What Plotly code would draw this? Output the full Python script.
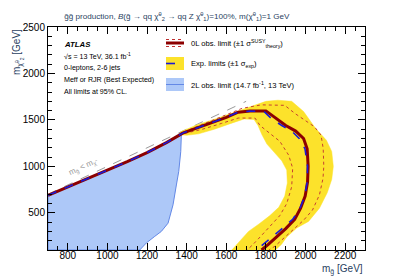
import plotly.graph_objects as go

# ---------------- data (GeV) ----------------
obs_x = [700, 800, 900, 1000, 1100, 1200, 1300, 1380, 1450, 1520, 1600, 1660, 1720, 1800,
         1850, 1900, 1950, 1990, 2008, 2013, 2010, 1998, 1975, 1945, 1900, 1855, 1812, 1778]
obs_y = [688, 778, 868, 963, 1050, 1148, 1258, 1358, 1410, 1460, 1528, 1583, 1595, 1597,
         1520, 1440, 1380, 1300, 1190, 1000, 830, 680, 550, 430, 330, 240, 160, 100]

exp_x = [700, 800, 900, 1000, 1100, 1200, 1300, 1380, 1450, 1520, 1600, 1660, 1720, 1790,
         1830, 1880, 1930, 1968, 1997, 2010, 2008, 1996, 1972, 1935, 1882, 1832, 1786, 1752]
exp_y = [688, 778, 868, 963, 1050, 1148, 1258, 1358, 1410, 1460, 1528, 1583, 1595, 1592,
         1510, 1440, 1380, 1300, 1190, 1000, 830, 680, 550, 430, 330, 240, 160, 100]

th_up_x = [1385, 1450, 1520, 1600, 1680, 1777, 1895, 1946, 2000, 2045, 2078, 2089, 2092,
           2088, 2070, 2035, 1990, 1940, 1885, 1845, 1815]
th_up_y = [1370, 1425, 1485, 1555, 1625, 1662, 1657, 1570, 1490, 1426, 1336, 1193, 1000,
           870, 693, 530, 420, 320, 210, 140, 100]

th_dn_x = [1390, 1480, 1575, 1660, 1745, 1770, 1811, 1870, 1915, 1935, 1930, 1905, 1870,
           1825, 1775, 1735, 1705]
th_dn_y = [1355, 1400, 1462, 1520, 1520, 1440, 1370, 1270, 1120, 980, 780, 600, 470,
           360, 250, 160, 100]

band_out_x = [1370, 1450, 1530, 1610, 1700, 1800, 1860, 1930, 1990, 2050, 2105, 2132,
              2140, 2132, 2110, 2070, 2015, 1955, 1905, 1878, 1848]
band_out_y = [1372, 1445, 1500, 1560, 1625, 1700, 1712, 1700, 1590, 1410, 1282, 1160,
              1000, 860, 720, 550, 408, 336, 240, 160, 100]
band_in_x = [1628, 1670, 1712, 1765, 1820, 1865, 1895, 1908, 1905, 1880, 1840, 1805,
             1780, 1760, 1740, 1690, 1620, 1540, 1460, 1400, 1370]
band_in_y = [100, 200, 300, 380, 470, 560, 680, 820, 960, 1060, 1160, 1240,
             1340, 1440, 1505, 1510, 1460, 1400, 1350, 1335, 1340]

l2_x = [700, 700, 800, 900, 1000, 1100, 1200, 1300, 1373, 1370, 1360, 1348, 1331, 1306,
        1272, 1239, 1196, 1163]
l2_y = [100, 686, 775, 865, 960, 1045, 1145, 1255, 1336, 1158, 947, 800, 586, 389,
        300, 247, 175, 100]

diag_x = [700, 1700]
diag_y = [700, 1700]

x_range = [700, 2300]
y_range = [100, 2500]

# ---------------- figure ----------------
FONT = "Liberation Sans, Arial, sans-serif"
YEL = "#FCE22B"
RED = "#8C0000"
BLUE = "#1A1AD6"
L2FILL = "#ADC8F8"
L2LINE = "#6388E6"

fig = go.Figure()

fig.add_trace(go.Scatter(x=l2_x + [l2_x[0]], y=l2_y + [l2_y[0]], mode="lines",
                         fill="toself", fillcolor=L2FILL,
                         line=dict(color=L2LINE, width=1), hoverinfo="skip"))

fig.add_trace(go.Scatter(x=diag_x, y=diag_y, mode="lines",
                         line=dict(color="#9a9a9a", width=1, dash="dash"), hoverinfo="skip"))

fig.add_trace(go.Scatter(x=band_out_x + band_in_x + [band_out_x[0]],
                         y=band_out_y + band_in_y + [band_out_y[0]],
                         mode="lines", fill="toself", fillcolor=YEL,
                         line=dict(color=YEL, width=0.5), hoverinfo="skip"))

for xs, ys in ((th_up_x, th_up_y), (th_dn_x, th_dn_y)):
    fig.add_trace(go.Scatter(x=xs, y=ys, mode="lines",
                             line=dict(color="#C03030", width=0.9, dash="dot"), hoverinfo="skip"))

fig.add_trace(go.Scatter(x=obs_x, y=obs_y, mode="lines",
                         line=dict(color=RED, width=3), hoverinfo="skip"))
fig.add_trace(go.Scatter(x=exp_x, y=exp_y, mode="lines",
                         line=dict(color=BLUE, width=1.6, dash="dash"), hoverinfo="skip"))

# plot area in pixels: x 40..357, y 19..242
L, R, T, B = 40, 357, 19, 242
def px(xp):
    return (xp - L) / (R - L)
def py(yp):
    return (B - yp) / (B - T)

shapes = []
# legend symbols
shapes.append(dict(type="line", xref="paper", yref="paper", x0=px(158), x1=px(176), y0=py(35), y1=py(35),
                   line=dict(color=RED, width=3)))
for yy in (31.5, 38.5):
    shapes.append(dict(type="line", xref="paper", yref="paper", x0=px(158), x1=px(176), y0=py(yy), y1=py(yy),
                       line=dict(color="#C03030", width=1, dash="dot")))
shapes.append(dict(type="rect", xref="paper", yref="paper", x0=px(158), x1=px(176), y0=py(62), y1=py(49),
                   fillcolor=YEL, line=dict(width=0)))
shapes.append(dict(type="line", xref="paper", yref="paper", x0=px(158), x1=px(176), y0=py(55.5), y1=py(55.5),
                   line=dict(color=BLUE, width=1.6, dash="dash")))
shapes.append(dict(type="rect", xref="paper", yref="paper", x0=px(158), x1=px(176), y0=py(83), y1=py(70),
                   fillcolor=L2FILL, line=dict(width=0)))
shapes.append(dict(type="line", xref="paper", yref="paper", x0=px(158), x1=px(176), y0=py(76.5), y1=py(76.5),
                   line=dict(color=L2LINE, width=1)))
fig.update_layout(shapes=shapes)

ann = []
def text(x, y, s, size=7.5, color="black", xanchor="left", angle=0):
    ann.append(dict(x=px(x), y=py(y), xref="paper", yref="paper", text=s, showarrow=False,
                    xanchor=xanchor, yanchor="middle", textangle=angle,
                    font=dict(family=FONT, size=size, color=color)))

text(181, 35, "0L obs. limit (±1 σ<sup>SUSY</sup><sub>theory</sub>)", size=7.6)
text(181, 55.5, "Exp. limits (±1 σ<sub>exp</sub>)", size=7.6)
text(181, 76.5, "2L obs. limit (14.7 fb<sup>-1</sup>, 13 TeV)", size=7.6)

text(54, 36, "<b><i>ATLAS</i></b>", size=7.8)
text(54, 48, "√s = 13 TeV, 36.1 fb<sup>-1</sup>", size=7.1)
text(54, 60, "0-leptons, 2-6 jets", size=7.1)
text(54, 72, "Meff or RJR (Best Expected)", size=7.1)
text(54, 84, "All limits at 95% CL.", size=7.1)

text(75, 159, "m<sub>g̃</sub> < m<sub>χ̃</sub>", size=8, color="#999999", xanchor="center", angle=-25)

ann.append(dict(x=px(54), y=py(8), xref="paper", yref="paper", showarrow=False,
                xanchor="left", yanchor="middle",
                text="g̃g̃ production, <i>B</i>(g̃ → qq χ̃<sup>0</sup><sub>2</sub> → qq Z χ̃<sup>0</sup><sub>1</sub>)=100%, m(χ̃<sup>0</sup><sub>1</sub>)=1 GeV",
                font=dict(family=FONT, size=8.1)))
ann.append(dict(x=1.0, y=py(261), xref="paper", yref="paper", showarrow=False,
                xanchor="right", yanchor="middle",
                text="m<sub>g̃</sub> [GeV]", font=dict(family=FONT, size=10)))
ann.append(dict(x=px(10), y=1.0, xref="paper", yref="paper", showarrow=False,
                xanchor="center", yanchor="top", textangle=-90,
                text="m<sub>χ̃<sup>0</sup><sub>2</sub></sub> [GeV]", font=dict(family=FONT, size=10)))
fig.update_layout(annotations=ann)

axis_common = dict(showgrid=False, zeroline=False, showline=True, linecolor="black", linewidth=1,
                   mirror="allticks", ticks="inside", tickcolor="black", ticklen=7, tickwidth=1,
                   tickfont=dict(family=FONT, size=10, color="black"))
fig.update_xaxes(range=x_range, dtick=200, tick0=0, ticklabelstandoff=-4,
                 minor=dict(ticks="inside", dtick=50, ticklen=4, tickcolor="black"), **axis_common)
fig.update_yaxes(range=y_range, dtick=500, tick0=0,
                 minor=dict(ticks="inside", dtick=100, ticklen=4, tickcolor="black"), **axis_common)

fig.update_layout(width=407, height=276, margin=dict(l=L, r=407 - R, t=T, b=276 - B),
                  paper_bgcolor="white", plot_bgcolor="white", showlegend=False,
                  font=dict(family=FONT))

fig.write_html("out.html")
